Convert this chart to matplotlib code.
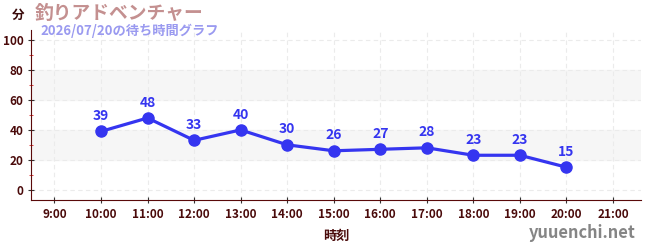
import matplotlib
matplotlib.use('Agg')
import matplotlib.pyplot as plt
import numpy as np

plt.rcParams['font.family'] = ['Noto Sans CJK JP', 'DejaVu Sans']

#%% data
hours = [10, 11, 12, 13, 14, 15, 16, 17, 18, 19, 20]
wait = [39, 48, 33, 40, 30, 26, 27, 28, 23, 23, 15]
xtick_hours = list(range(9, 22))
xtick_labels = ['%d:00' % h for h in xtick_hours]
title = '釣りアドベンチャー'
subtitle = '2026/07/20の待ち時間グラフ'

#%% plot
fig = plt.figure(figsize=(6.5, 2.5), dpi=100)
ax = fig.add_axes([0.048, 0.2, 0.938, 0.68])

axis_col = '#5a0a0a'
line_col = '#3535f0'

ax.axhspan(20, 40, color='#f6f6f6', zorder=0)
ax.axhspan(60, 80, color='#f6f6f6', zorder=0)
ax.grid(True, color='#ebebeb', linestyle=(0, (4, 3)), linewidth=0.8, zorder=0)

ax.plot(hours, wait, color=line_col, linewidth=2.3, marker='o', markersize=8, zorder=3)
for h, w in zip(hours, wait):
    ax.annotate(str(w), (h, w), xytext=(0, 6), textcoords='offset points',
                ha='center', va='bottom', color=line_col, fontsize=10, fontweight='bold')

ax.set_xlim(8.5, 21.6)
ax.set_ylim(-7, 107)
ax.set_xticks(xtick_hours)
ax.set_xticklabels(xtick_labels)
ax.set_yticks(np.arange(0, 101, 20))
ax.set_yticks(np.arange(10, 100, 20), minor=True)

for s in ['top', 'right']:
    ax.spines[s].set_visible(False)
ax.spines['left'].set_color(axis_col)
ax.spines['bottom'].set_color(axis_col)
ax.tick_params(axis='both', which='major', colors='#333333', labelcolor='#4a0a0a',
               labelsize=8.5, length=4, direction='inout')
ax.tick_params(axis='y', which='minor', colors='#dd2222', length=3, direction='inout')
for lbl in ax.get_xticklabels() + ax.get_yticklabels():
    lbl.set_fontweight('bold')

ax.set_xlabel('時刻', color='#4a0a0a', fontsize=9.5, fontweight='bold', labelpad=6)

fig.text(0.018, 0.94, '分', color='#3a0a0a', fontsize=9, fontweight='bold', va='center')
fig.text(0.054, 0.945, title, color='#c49090', fontsize=13.5, fontweight='bold', va='center')
fig.text(0.062, 0.875, subtitle, color='#9a9af0', fontsize=9.5, fontweight='bold', va='center')
fig.text(0.978, 0.07, 'yuuenchi.net', color='#858585', fontsize=11.8, fontweight='bold',
         ha='right', va='center')

plt.savefig('out.png', dpi=100)
plt.close()
